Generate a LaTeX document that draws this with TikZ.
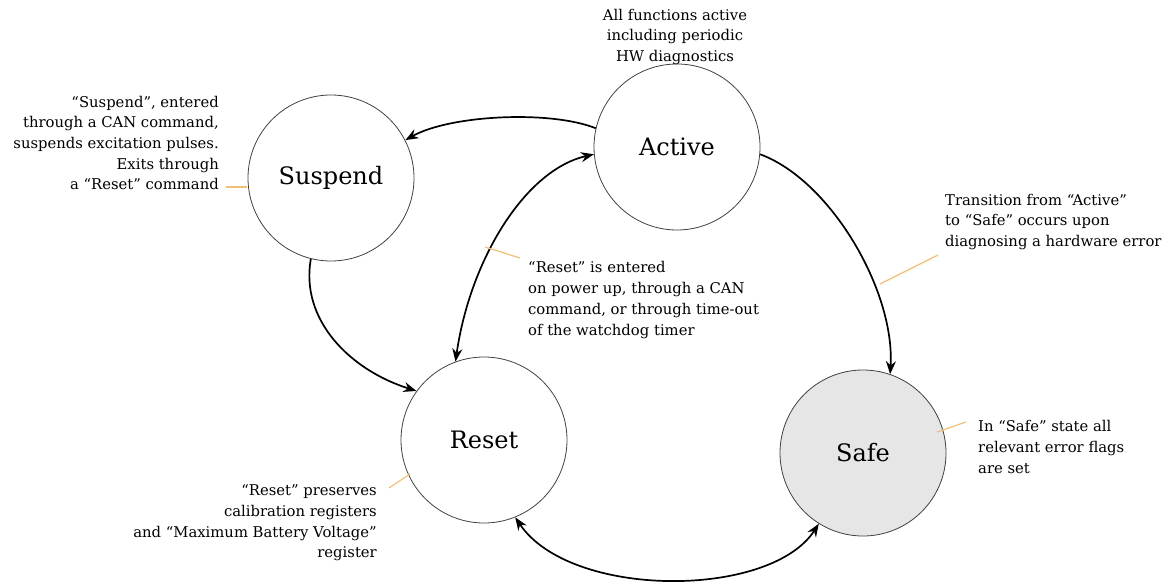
\documentclass[tikz,border=0pt]{standalone}
\usepackage{fontspec}
\setmainfont{DejaVu Serif}
\usetikzlibrary{arrows.meta}
\definecolor{lead}{RGB}{240,192,120}
\definecolor{safefill}{RGB}{230,230,230}
\begin{document}
\begin{tikzpicture}[x=1pt,y=-1pt,
  state/.style={circle,draw=black!75,line width=0.8pt,minimum size=166pt,inner sep=0pt,font=\fontsize{24}{28}\selectfont},
  note/.style={inner sep=0pt,font=\fontsize{14.8}{20.7}\selectfont},
  tip/.style={},
  trans/.style={line width=1.7pt,-{Stealth[length=13pt,width=10pt]}},
  biarrow/.style={line width=1.7pt,{Stealth[length=13pt,width=10pt]}-{Stealth[length=13pt,width=10pt]}},
  leader/.style={draw=lead,line width=1.2pt}]
\useasboundingbox (0,0) rectangle (1167,583);
\node[state] (act) at (677,147) {Active};
\node[state] (sus) at (331,178) {Suspend};
\node[state] (res) at (484,440) {Reset};
\node[state,fill=safefill] (saf) at (863,453) {Safe};

\draw[trans] (act.167) .. controls (550,110) and (450,115) .. (sus.27);
\draw[biarrow] (res.110) .. controls (470,260) and (525,170) .. (act.185);
\draw[trans] (sus.256) .. controls (300,320) and (350,370) .. (res.144);
\draw[trans] (act.355) .. controls (830,180) and (895,290) .. (saf.71);
\draw[biarrow] (res.292) .. controls (570,599) and (770,599) .. (saf.238);

\node[note,align=center] (tact) at (675,37) {All functions active\\including periodic\\HW diagnostics};
\node[note,align=right,anchor=east] (tsus) at (219,143) {“Suspend”, entered\\through a CAN command,\\suspends excitation pulses.\\Exits through\ \\a “Reset” command};
\node[note,align=left,anchor=west] (tent) at (528,300) {“Reset” is entered\\on power up, through a CAN\\command, or through time-out\\of the watchdog timer};
\node[note,align=left,anchor=west] (ttra) at (945,222) {Transition from “Active”\\to “Safe” occurs upon\\diagnosing a hardware error};
\node[note,align=left,anchor=west] (tsaf) at (978,447) {In “Safe” state all\\relevant error flags\\are set};
\node[note,align=right,anchor=east] (tpre) at (377,523) {“Reset” preserves\\calibration registers\\and “Maximum Battery Voltage”\\register};

\coordinate (l1a) at (226,187); \coordinate (l1b) at (247,187);
\coordinate (l2a) at (485,247); \coordinate (l2b) at (520,258);
\coordinate (l3a) at (880,284); \coordinate (l3b) at (938,255);
\coordinate (l4a) at (937,432); \coordinate (l4b) at (966,422);
\coordinate (l5a) at (389,488); \coordinate (l5b) at (410,474);
\draw[leader] (l1a) -- (l1b);
\draw[leader] (l2a) -- (l2b);
\draw[leader] (l3a) -- (l3b);
\draw[leader] (l4a) -- (l4b);
\draw[leader] (l5a) -- (l5b);
\end{tikzpicture}
\end{document}
